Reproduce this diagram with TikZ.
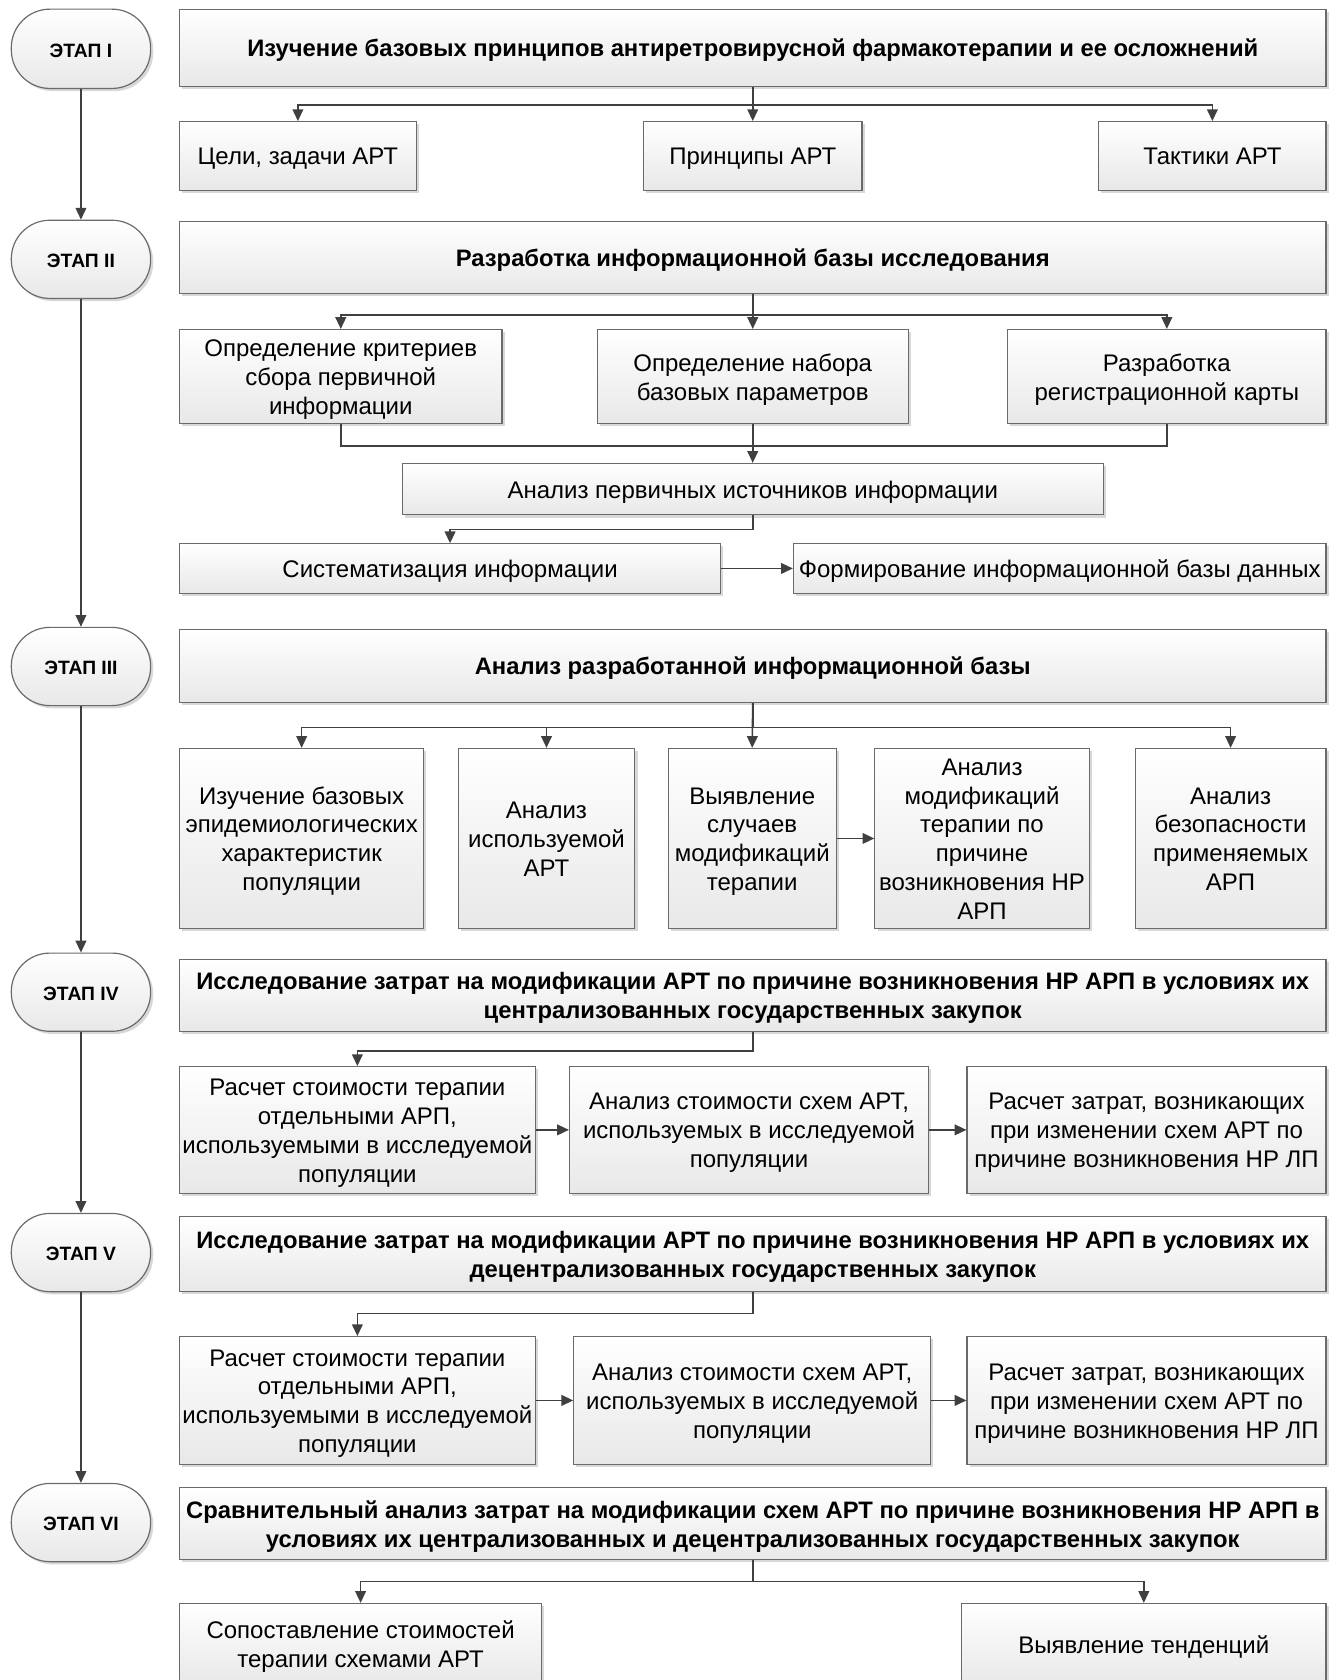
\documentclass[tikz,border=0pt]{standalone}
\usepackage{fontspec}
\setmainfont{Liberation Sans}
\usetikzlibrary{arrows.meta,shadows}
\definecolor{bordc}{HTML}{6A6A6A}
\definecolor{arrc}{HTML}{404040}
\tikzset{
  box/.style={draw=bordc, line width=1.1pt, top color=white, bottom color=black!9,
    drop shadow={shadow xshift=2.5pt, shadow yshift=-2.5pt, fill=black!25, opacity=0.6},
    inner xsep=2pt, inner ysep=0pt, anchor=north west,
    font=\fontsize{22.4}{27}\selectfont},
  head/.style={box, font=\bfseries\fontsize{22.2}{27}\selectfont},
  pill/.style={box, rounded corners=36pt, font=\bfseries\fontsize{18}{24}\selectfont},
  conn/.style={draw=arrc, line width=1.5pt},
  arr/.style={conn, -{Triangle[length=11pt,width=10pt]}},
}
\newcommand\mybox[7][box]{\node[#1, minimum width=#5pt-#3pt, minimum height=#6pt-#4pt] (#2) at (#3,#4)
  {\raisebox{-3pt}[\height][\depth]{\begin{tabular}{@{}c@{}}#7\end{tabular}}};}
\begin{document}
\begin{tikzpicture}[x=1pt,y=-1pt]
\useasboundingbox[fill=white] (0,0) rectangle (1247,1568);
% stage pills
\mybox[pill]{p1}{10}{8}{140}{82}{ЭТАП I}
\mybox[pill]{p2}{10}{205}{140}{278}{ЭТАП II}
\mybox[pill]{p3}{10}{585}{140}{658}{ЭТАП III}
\mybox[pill]{p4}{10}{889}{140}{962}{ЭТАП IV}
\mybox[pill]{p5}{10}{1132}{140}{1205}{ЭТАП V}
\mybox[pill]{p6}{10}{1384}{140}{1457}{ЭТАП VI}
\draw[arr] (p1.south) -- (p2.north);
\draw[arr] (p2.south) -- (p3.north);
\draw[arr] (p3.south) -- (p4.north);
\draw[arr] (p4.south) -- (p5.north);
\draw[arr] (p5.south) -- (p6.north);
% stage I
\mybox[head]{b1}{167}{8}{1237}{80}{Изучение базовых принципов антиретровирусной фармакотерапии и ее осложнений}
\mybox{c11}{167}{113}{388}{177}{Цели, задачи АРТ}
\mybox{c12}{600}{113}{804}{177}{Принципы АРТ}
\mybox{c13}{1025}{113}{1237}{177}{Тактики АРТ}
\draw[arr] (b1.south) -- ++(0,17) -| (c11.north);
\draw[arr] (b1.south) -- ++(0,17) -| (c13.north);
\draw[arr] (b1.south) -- (c12.north);
% stage II
\mybox[head]{b2}{167}{206}{1237}{273}{Разработка информационной базы исследования}
\mybox{c21}{167}{307}{468}{395}{Определение критериев\\сбора первичной\\информации}
\mybox{c22}{557}{307}{847}{395}{Определение набора\\базовых параметров}
\mybox{c23}{940}{307}{1237}{395}{Разработка\\регистрационной карты}
\draw[arr] (b2.south) -- ++(0,20) -| (c21.north);
\draw[arr] (b2.south) -- ++(0,20) -| (c23.north);
\draw[arr] (b2.south) -- (c22.north);
\mybox{c24}{375}{432}{1029}{480}{Анализ первичных источников информации}
\draw[conn] (c21.south) -- ++(0,20) -| (c23.south);
\draw[arr] (c22.south) -- (c24.north);
\mybox{c25}{167}{507}{672}{553}{Систематизация информации}
\mybox{c26}{740}{507}{1237}{553}{Формирование информационной базы данных}
\draw[arr] (c24.south) -- ++(0,13) -| (c25.north);
\draw[arr] (c25) -- (c26);
% stage III
\mybox[head]{b3}{167}{587}{1237}{655}{Анализ разработанной информационной базы}
\mybox{c31}{167}{698}{395}{866}{Изучение базовых\\эпидемиологических\\характеристик\\популяции}
\mybox{c32}{427}{698}{592}{866}{Анализ\\используемой\\АРТ}
\mybox{c33}{623}{698}{780}{866}{Выявление\\случаев\\модификаций\\терапии}
\mybox{c34}{816}{698}{1016}{866}{Анализ\\модификаций\\терапии по\\причине\\возникновения НР\\АРП}
\mybox{c35}{1059}{698}{1237}{866}{Анализ\\безопасности\\применяемых\\АРП}
\draw[arr] (b3.south) -- ++(0,23) -| (c31.north);
\draw[arr] (b3.south) -- ++(0,23) -| (c32.north);
\draw[arr] (b3.south) -- ++(0,23) -| (c35.north);
\draw[arr] (b3.south) -- (c33.north);
\draw[arr] (c33) -- (c34);
% stage IV
\mybox[head]{b4}{167}{895}{1237}{962}{Исследование затрат на модификации АРТ по причине возникновения НР АРП в условиях их\\централизованных государственных закупок}
\mybox{c41}{167}{995}{499}{1113}{Расчет стоимости терапии\\отдельными АРП,\\используемыми в исследуемой\\популяции}
\mybox{c42}{531}{995}{866}{1113}{Анализ стоимости схем АРТ,\\используемых в исследуемой\\популяции}
\mybox{c43}{902}{995}{1237}{1113}{Расчет затрат, возникающих\\при изменении схем АРТ по\\причине возникновения НР ЛП}
\draw[arr] (b4.south) -- ++(0,18) -| (c41.north);
\draw[arr] (c41) -- (c42);
\draw[arr] (c42) -- (c43);
% stage V
\mybox[head]{b5}{167}{1135}{1237}{1205}{Исследование затрат на модификации АРТ по причине возникновения НР АРП в условиях их\\децентрализованных государственных закупок}
\mybox{c51}{167}{1247}{499}{1366}{Расчет стоимости терапии\\отдельными АРП,\\используемыми в исследуемой\\популяции}
\mybox{c52}{535}{1247}{868}{1366}{Анализ стоимости схем АРТ,\\используемых в исследуемой\\популяции}
\mybox{c53}{902}{1247}{1237}{1366}{Расчет затрат, возникающих\\при изменении схем АРТ по\\причине возникновения НР ЛП}
\draw[arr] (b5.south) -- ++(0,20) -| (c51.north);
\draw[arr] (c51) -- (c52);
\draw[arr] (c52) -- (c53);
% stage VI
\mybox[head]{b6}{167}{1388}{1237}{1455}{Сравнительный анализ затрат на модификации схем АРТ по причине возникновения НР АРП в\\условиях их централизованных и децентрализованных государственных закупок}
\mybox{c61}{167}{1496}{505}{1572}{Сопоставление стоимостей\\терапии схемами АРТ}
\mybox{c62}{897}{1496}{1237}{1572}{Выявление тенденций}
\draw[arr] (b6.south) -- ++(0,20) -| (c61.north);
\draw[arr] (b6.south) -- ++(0,20) -| (c62.north);
\end{tikzpicture}
\end{document}
